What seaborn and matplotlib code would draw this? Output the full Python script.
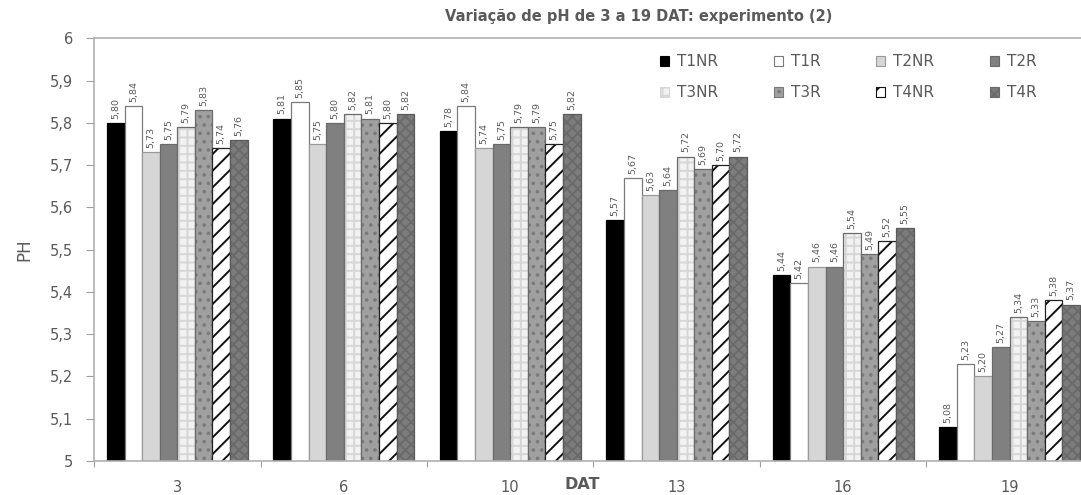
import matplotlib
matplotlib.use("Agg")
import matplotlib.pyplot as plt
from matplotlib.patches import Patch
from matplotlib.colors import to_rgba
import seaborn as sns
import pandas as pd

# Sampling days (days after transplant)
dat = ["3", "6", "10", "13", "16", "19"]
treatments = ["T1NR", "T1R", "T2NR", "T2R", "T3NR", "T3R", "T4NR", "T4R"]

# pH per treatment, one value per sampling day
t1nr = [5.80, 5.81, 5.78, 5.57, 5.44, 5.08]
t1r = [5.84, 5.85, 5.84, 5.67, 5.42, 5.23]
t2nr = [5.73, 5.75, 5.74, 5.63, 5.46, 5.20]
t2r = [5.75, 5.80, 5.75, 5.64, 5.46, 5.27]
t3nr = [5.79, 5.82, 5.79, 5.72, 5.54, 5.34]
t3r = [5.83, 5.81, 5.79, 5.69, 5.49, 5.33]
t4nr = [5.74, 5.80, 5.75, 5.70, 5.52, 5.38]
t4r = [5.76, 5.82, 5.82, 5.72, 5.55, 5.37]

series = [t1nr, t1r, t2nr, t2r, t3nr, t3r, t4nr, t4r]
df = pd.DataFrame(
    [(d, t, v[i]) for t, v in zip(treatments, series) for i, d in enumerate(dat)],
    columns=["DAT", "Tratamento", "pH"],
)

# fill, outline, hatch pattern, hatch colour
styles = {
    "T1NR": ("#000000", "#000000", "", None),
    "T1R": ("#ffffff", "#7a7a7a", "", None),
    "T2NR": ("#d6d6d6", "#9a9a9a", "", None),
    "T2R": ("#808080", "#6a6a6a", "", None),
    "T3NR": ("#f2f2f2", "#6a6a6a", "++", "#d6d6d6"),
    "T3R": ("#a0a0a0", "#6a6a6a", "..", "#7a7a7a"),
    "T4NR": ("#ffffff", "#222222", "//", "#111111"),
    "T4R": ("#7c7c7c", "#5a5a5a", "xxx", "#6a6a6a"),
}

txt = "#5a5a5a"
sns.set_theme(style="white")
plt.rcParams["font.family"] = ["DejaVu Sans"]
plt.rcParams["hatch.linewidth"] = 1.4

fig = plt.figure(figsize=(10.81, 4.95), dpi=100)
ax = fig.add_axes([0.087, 0.0687, 0.924, 0.854])

sns.barplot(data=df, x="DAT", y="pH", hue="Tratamento", hue_order=treatments,
            order=dat, width=0.845, gap=0, errorbar=None, ax=ax, legend=False)

def fmt(v):
    return f"{v:.2f}".replace(".", ",")

for cont, name, vals in zip(ax.containers, treatments, series):
    fc, ec, hatch, hc = styles[name]
    for p in cont.patches:
        p.set_facecolor(fc)
        p.set_edgecolor(ec)
        p.set_linewidth(0.9)
        if hatch:
            p.set_hatch(hatch)
            p._hatch_color = to_rgba(hc)
    ax.bar_label(cont, labels=[fmt(v) for v in vals], rotation=90,
                 fontsize=6.8, color=txt, padding=3)

ax.set_ylim(5, 6)
ax.set_xlim(-0.5, len(dat) - 0.5)
yt = [5 + i / 10 for i in range(11)]
ax.set_yticks(yt)
ax.set_yticklabels([("%g" % round(v, 1)).replace(".", ",") for v in yt],
                   fontsize=10.5, color=txt)
ax.tick_params(axis="y", left=True, length=6, width=0.8, color="#a0a0a0", pad=9)

ax.set_xticks(range(len(dat)))
ax.set_xticklabels(dat, fontsize=10.5, color=txt)
ax.set_xticks([i - 0.5 for i in range(len(dat) + 1)], minor=True)
ax.tick_params(axis="x", which="major", length=0, pad=14)
ax.tick_params(axis="x", which="minor", bottom=True, length=4, width=0.8, color="#a0a0a0")

for side in ["left", "bottom", "top", "right"]:
    ax.spines[side].set_color("#b0b0b0")
    ax.spines[side].set_linewidth(1.2)

ax.set_xlabel("")
ax.set_ylabel("PH", fontsize=12, color=txt, labelpad=12)
fig.text(0.539, 0.022, "DAT", fontsize=11.5, fontweight="bold", color=txt,
         ha="center", va="center")
fig.text(0.591, 0.967, "Variação de pH de 3 a 19 DAT: experimento (2)",
         fontsize=10.5, fontweight="bold", color=txt, ha="center", va="center")

handles = []
for name in treatments:
    fc, ec, hatch, hc = styles[name]
    handles.append(Patch(facecolor=fc, edgecolor=hc if hc else ec, hatch=hatch, linewidth=0.8))
# legend fills column by column: order entries so rows read left to right
order = [0, 4, 1, 5, 2, 6, 3, 7]
ax.legend([handles[i] for i in order], [treatments[i] for i in order], ncol=4,
          loc="upper left", bbox_to_anchor=(0.553, 0.995), frameon=False,
          fontsize=11, labelcolor=txt, handlelength=0.6, handleheight=0.6,
          handletextpad=0.5, columnspacing=3.65, labelspacing=1.05)

fig.savefig("out.png", dpi=100)
